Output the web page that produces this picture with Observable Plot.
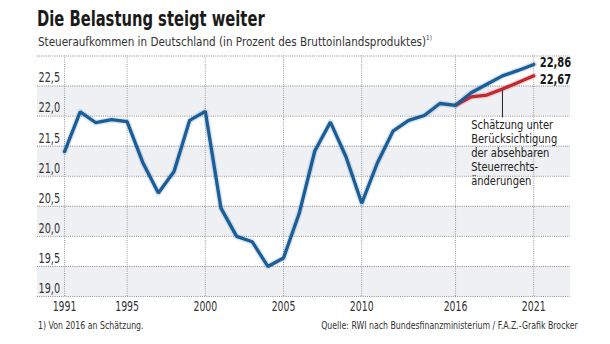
<!DOCTYPE html>
<html>
<head>
<meta charset="utf-8">
<script src="https://cdn.jsdelivr.net/npm/d3@7"></script>
<script src="https://cdn.jsdelivr.net/npm/@observablehq/plot@0.6"></script>
<style>
  html, body { margin: 0; padding: 0; background: #fff; }
  body { width: 610px; height: 344px; overflow: hidden; position: relative;
         font-family: "DejaVu Sans Condensed", "DejaVu Sans", sans-serif; color: #222; }
  #header { position: relative; height: 50px; }
  .cond { display: inline-block; white-space: nowrap; position: absolute; }
  #title { left: 37px; top: 7px; font-size: 21px; font-weight: bold; color: #1a1a1a;
           transform: scaleX(0.78); transform-origin: 0 50%; }
  #subtitle { left: 38px; top: 34px; font-size: 13px; color: #333;
              transform: scaleX(0.89); transform-origin: 0 50%; }
  #subtitle sup { font-size: 7px; vertical-align: 6px; }
  #chart svg { display: block; }
  #footer { position: relative; height: 28px; font-size: 11px; color: #333; }
  #note { left: 38px; top: 3px; transform: scaleX(0.79); transform-origin: 0 50%; }
  #source { right: 32px; top: 3px; transform: scaleX(0.79); transform-origin: 100% 50%; }
</style>
</head>
<body>
<div id="header">
  <div id="title" class="cond">Die Belastung steigt weiter</div>
  <div id="subtitle" class="cond">Steueraufkommen in Deutschland (in Prozent des Bruttoinlandsproduktes)<sup>1)</sup></div>
</div>
<div id="chart"></div>
<div id="footer">
  <div id="note" class="cond">1) Von 2016 an Schätzung.</div>
  <div id="source" class="cond">Quelle: RWI nach Bundesfinanzministerium / F.A.Z.-Grafik Brocker</div>
</div>
<script>
// ---- data ----
const years = [1991, 1992, 1993, 1994, 1995, 1996, 1997, 1998, 1999, 2000,
               2001, 2002, 2003, 2004, 2005, 2006, 2007, 2008, 2009, 2010,
               2011, 2012, 2013, 2014, 2015, 2016, 2017, 2018, 2019, 2020, 2021];
const blueValues = [21.41, 22.07, 21.89, 21.94, 21.91, 21.23, 20.72, 21.08, 21.93, 22.08,
                    20.47, 20.00, 19.91, 19.50, 19.64, 20.38, 21.42, 21.90, 21.32, 20.55,
                    21.22, 21.75, 21.93, 22.01, 22.21, 22.18, 22.39, 22.53, 22.67, 22.76, 22.86];
const redYears = [2016, 2017, 2018, 2019, 2020, 2021];
const redValues = [22.18, 22.32, 22.35, 22.45, 22.56, 22.67];
const xTicks = [1991, 1995, 2000, 2005, 2010, 2016, 2021];
const yTicks = [19.0, 19.5, 20.0, 20.5, 21.0, 21.5, 22.0, 22.5];
const yGrid = [19.0, 19.5, 20.0, 20.5, 21.0, 21.5, 22.0, 22.5, 23.0];
const bands = [[19.0, 19.5], [20.0, 20.5], [21.0, 21.5], [22.0, 22.5]];
const endLabels = ["22,86", "22,67"];
const noteText = "Schätzung unter\nBerücksichtigung\nder absehbaren\nSteuerrechts-\nänderungen";

const blue = years.map((y, i) => ({year: y, value: blueValues[i]}));
const red = redYears.map((y, i) => ({year: y, value: redValues[i]}));
const ends = [
  {year: 2021, value: blueValues[blueValues.length - 1], label: endLabels[0]},
  {year: 2021, value: redValues[redValues.length - 1], label: endLabels[1]}
];

const xDomain = [1989.27, 2023.35];
const yDomain = [19, 23];
const fmt = d => d.toFixed(1).replace(".", ",");
const font = '"DejaVu Sans Condensed", "DejaVu Sans", sans-serif';

const chart = Plot.plot({
  width: 610,
  height: 266,
  marginTop: 5.5,
  marginBottom: 20,
  marginLeft: 37,
  marginRight: 40,
  style: {fontFamily: font, fontSize: "13px", color: "#333", background: "transparent"},
  x: {domain: xDomain, axis: null},
  y: {domain: yDomain, axis: null},
  marks: [
    Plot.rect(bands, {x1: xDomain[0], x2: xDomain[1], y1: d => d[0], y2: d => d[1], fill: "#eff0f3"}),
    Plot.ruleY(yGrid, {stroke: "#8a8a8a", strokeWidth: 1, strokeDasharray: "1,1.2"}),
    Plot.ruleX(xTicks, {y1: yDomain[0], y2: yDomain[1], stroke: "#9a9a9a", strokeWidth: 1, strokeDasharray: "1,1.2"}),
    Plot.text(yTicks, {x: xDomain[0], y: d => d, text: fmt, textAnchor: "start", dx: 1, dy: -8, fill: "#333", fontSize: 13.5}),
    Plot.text(xTicks, {x: d => d, y: yDomain[0], text: d => String(d), dy: 10, fill: "#333", fontSize: 13.5}),
    // annotation connector
    Plot.ruleX([redYears[3]], {y1: redValues[3], y2: 21.97, stroke: "#222", strokeWidth: 1}),
    Plot.text([noteText], {x: 2017, y: 21.95, text: d => d, textAnchor: "start", lineAnchor: "top", lineHeight: 1.08, fill: "#222", fontSize: 13}),
    // halos
    Plot.line(red, {x: "year", y: "value", stroke: "#c0282e", strokeWidth: 6, strokeOpacity: 0.16}),
    Plot.line(blue, {x: "year", y: "value", stroke: "#1b5d97", strokeWidth: 6, strokeOpacity: 0.16}),
    Plot.line(red, {x: "year", y: "value", stroke: "#c0282e", strokeWidth: 3.3, strokeLinejoin: "miter"}),
    Plot.line(blue, {x: "year", y: "value", stroke: "#1b5d97", strokeWidth: 3.3, strokeLinejoin: "miter"}),
    Plot.text(ends, {x: "year", y: d => d.value, text: "label", textAnchor: "start", dx: 6, fontWeight: "bold", fontSize: 13.5, fill: "#1a1a1a"})
  ]
});

// condense text horizontally (the original uses a condensed typeface)
const textGroups = chart.querySelectorAll('g[aria-label="text"]');
const scales = [0.8, 0.77, 0.85, 0.82];
textGroups.forEach((g, gi) => {
  const s = scales[gi] ?? 1;
  g.querySelectorAll("text").forEach(t => {
    const tr = t.getAttribute("transform");
    if (tr) {
      t.setAttribute("transform", tr + ` scale(${s},1)`);
    } else {
      const x = +t.getAttribute("x") || 0, y = +t.getAttribute("y") || 0;
      t.removeAttribute("x"); t.removeAttribute("y");
      t.setAttribute("transform", `translate(${x},${y}) scale(${s},1)`);
    }
  });
});
// small vertical separation of the two end labels
if (textGroups[3]) {
  const ts = textGroups[3].querySelectorAll("text");
  const shift = [-1.5, 3.5];
  ts.forEach((t, i) => t.setAttribute("transform", t.getAttribute("transform").replace(/scale/, `translate(0,${shift[i] ?? 0}) scale`)));
}
document.getElementById("chart").appendChild(chart);
</script>
</body>
</html>
